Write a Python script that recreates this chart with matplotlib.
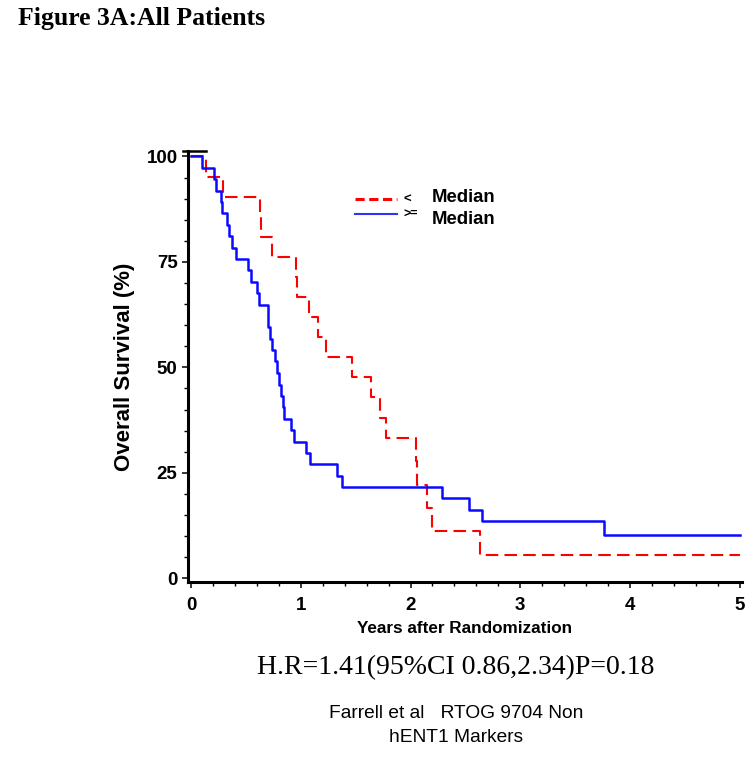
import matplotlib
matplotlib.use("Agg")
import matplotlib.pyplot as plt
from matplotlib.lines import Line2D
from matplotlib.ticker import MultipleLocator

# Kaplan-Meier steps (years, survival %)
blue_t = [0, 0.097, 0.207, 0.228, 0.273, 0.28, 0.325, 0.346, 0.37, 0.41, 0.52,
          0.55, 0.598, 0.62, 0.70, 0.705, 0.72, 0.74, 0.765, 0.78, 0.80, 0.82,
          0.84, 0.85, 0.91, 0.94, 1.05, 1.08, 1.33, 1.38, 2.29, 2.53, 2.65,
          3.76, 5.0]
blue_s = [100, 97.3, 94.6, 91.9, 89.2, 86.5, 83.8, 81.1, 78.4, 75.7, 73.0,
          70.3, 67.6, 64.9, 62.2, 59.5, 56.8, 54.1, 51.4, 48.6, 45.9, 43.2,
          40.5, 37.8, 35.1, 32.4, 29.7, 27.0, 24.3, 21.6, 18.9, 16.2, 13.5,
          10.3, 10.3]

red_t = [0, 0.137, 0.29, 0.63, 0.635, 0.735, 0.96, 0.965, 1.077, 1.157, 1.23,
         1.47, 1.64, 1.72, 1.78, 2.05, 2.06, 2.15, 2.2, 2.63, 5.0]
red_s = [100, 95.2, 90.5, 85.7, 81.0, 76.2, 71.4, 66.7, 61.9, 57.1, 52.4,
         47.6, 42.9, 38.1, 33.3, 27.8, 22.2, 16.7, 11.1, 5.6, 5.6]

x_ticks = [0, 1, 2, 3, 4, 5]
y_ticks = [0, 25, 50, 75, 100]

W, H = 754, 759


def px(x, y):
    # pixel position -> figure fraction
    return x / W, 1 - y / H


fig = plt.figure(figsize=(W / 100, H / 100), dpi=100)
ax = fig.add_axes([188 / W, 1 - 582 / H, (742 - 188) / W, (582 - 151) / H])

ax.step(red_t, red_s, where="post", color="#ff0000", lw=1.5,
        linestyle=(0, (6, 3)))
ax.step(blue_t, blue_s, where="post", color="#0a0aff", lw=1.8)

ax.set_xlim(-0.027, 5.02)
ax.set_ylim(-0.9, 101.3)
ax.set_xticks(x_ticks)
ax.set_yticks(y_ticks)
ax.xaxis.set_minor_locator(MultipleLocator(0.2))
ax.yaxis.set_minor_locator(MultipleLocator(5))
for s in ["top", "right"]:
    ax.spines[s].set_visible(False)
for s in ["left", "bottom"]:
    ax.spines[s].set_linewidth(2.2)
ax.tick_params(which="major", length=4.5, width=1.1, labelsize=13.5, pad=3)
ax.tick_params(axis="x", which="major", pad=6)
ax.tick_params(which="minor", length=3, width=1.0)
for lab in ax.get_xticklabels() + ax.get_yticklabels():
    lab.set_fontweight("bold")
    lab.set_family("Liberation Sans")

ax.set_ylabel("Overall Survival (%)", fontsize=16, fontweight="bold",
              family="Liberation Sans", labelpad=8)
ax.set_xlabel("Years after Randomization", fontsize=12.3, fontweight="bold",
              family="Liberation Sans", labelpad=5)

# small cap at the top of the y axis
fig.add_artist(Line2D([183 / W, 206 / W], [1 - 151 / H, 1 - 151 / H],
                      color="black", lw=1.8))

# legend drawn by hand
fig.add_artist(Line2D([355 / W, 397 / W], [1 - 199 / H, 1 - 199 / H],
                      color="#ff0000", lw=2.2, linestyle=(0, (3, 1.5))))
fig.add_artist(Line2D([355 / W, 397 / W], [1 - 214 / H, 1 - 214 / H],
                      color="#3030ff", lw=1.5))
fig.text(*px(404, 200), "<", fontsize=9.5, fontweight="bold",
         family="Liberation Sans", va="center")
fig.text(*px(404, 215), ">=", fontsize=9, fontweight="bold",
         family="Liberation Sans", va="center")
fig.text(*px(432, 198), "Median", fontsize=13.3, fontweight="bold",
         family="Liberation Sans", va="center")
fig.text(*px(432, 219), "Median", fontsize=13.3, fontweight="bold",
         family="Liberation Sans", va="center")

fig.text(*px(18, 18), "Figure 3A:All Patients", fontsize=18.5,
         fontweight="bold", family="Liberation Serif", va="center")
fig.text(*px(456, 668), "H.R=1.41(95%CI 0.86,2.34)P=0.18", fontsize=20,
         family="Liberation Serif", ha="center", va="center")
fig.text(*px(456, 714), "Farrell et al   RTOG 9704 Non", fontsize=13.8,
         family="Liberation Sans", ha="center", va="center")
fig.text(*px(456, 738), "hENT1 Markers", fontsize=13.8,
         family="Liberation Sans", ha="center", va="center")

fig.savefig("out.png", dpi=100)
